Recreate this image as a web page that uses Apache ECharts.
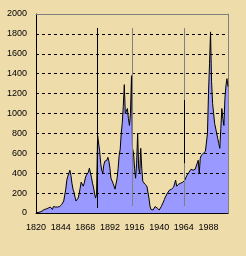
<!DOCTYPE html>
<html>
<head>
<meta charset="utf-8">
<script src="https://cdn.jsdelivr.net/npm/echarts@6/dist/echarts.min.js"></script>
<style>
  html, body { margin: 0; padding: 0; background: #eedcab; }
  #chart { width: 246px; height: 256px; }
</style>
</head>
<body>
<div id="chart"></div>
<script>
  // years on the x axis, one category per year
  const firstYear = 1820;
  const lastYear = 2007;
  const years = [];
  for (let y = firstYear; y <= lastYear; y++) years.push(String(y));

  // yearly values (one row per decade)
  const values = [
    5, 5, 5, 5, 10, 15, 20, 20, 35, 25,
    40, 40, 50, 55, 60, 50, 35, 65, 75, 60,
    40, 60, 70, 65, 75, 85, 80, 120, 180, 240,
    330, 370, 400, 430, 380, 300, 240, 210, 160, 120,
    130, 150, 190, 250, 310, 320, 270, 300, 350, 380,
    390, 410, 450, 440, 360, 300, 260, 200, 150, 190,
    780, 800, 620, 500, 430, 400, 480, 520, 500, 530,
    560, 520, 450, 350, 330, 300, 280, 240, 260, 350,
    450, 580, 640, 800, 900, 1070, 1290, 1000, 980, 1050,
    950, 880, 1000, 1380, 650, 600, 450, 350, 500, 800,
    450, 400, 650, 450, 320, 300, 290, 280, 270, 250,
    150, 70, 35, 25, 30, 50, 65, 75, 50, 35,
    30, 45, 65, 85, 110, 135, 160, 175, 200, 190,
    230, 220, 240, 235, 260, 280, 330, 270, 280, 290,
    275, 300, 290, 310, 320, 330, 350, 380, 390, 410,
    420, 440, 420, 430, 420, 440, 460, 500, 530, 400,
    550, 580, 590, 600, 610, 620, 640, 800, 1200, 1500,
    1820, 1320, 1100, 1000, 900, 880, 800, 750, 700, 650,
    850, 1050, 950, 880, 1150, 1280, 1350, 1270
  ];

  // y axis ticks
  const yMin = 0;
  const yMax = 2000;
  const yStep = 200;
  const gridValues = [200, 400, 600, 800, 1000, 1200, 1400, 1600, 1800];

  // vertical marker lines: year, from, to, colour
  const markerYears = ['1880', '1914', '1964', '1964'];
  const markerFrom = [50, 70, 70, 500];
  const markerTo = [1860, 1860, 1860, 1135];
  const markerColors = ['#000000', '#808080', '#808080', '#000000'];

  const markerData = markerYears.map(function (yr, i) {
    const ls = { color: markerColors[i], width: 1, type: 'solid' };
    return [
      { coord: [yr, markerFrom[i]], lineStyle: ls },
      { coord: [yr, markerTo[i]], lineStyle: ls }
    ];
  });

  const chart = echarts.init(document.getElementById('chart'), null, { renderer: 'canvas' });

  const font = 'Liberation Sans, Arial, sans-serif';

  chart.setOption({
    animation: false,
    backgroundColor: 'transparent',
    grid: { left: 36, right: 18, top: 14, bottom: 43 },
    xAxis: [
      {
        type: 'category',
        data: years,
        boundaryGap: false,
        axisLine: { onZero: false, lineStyle: { color: '#000', width: 1 } },
        axisTick: { show: false },
        axisLabel: { interval: 23, color: '#000', fontSize: 9, fontFamily: font, margin: 10 },
        splitLine: { show: false }
      },
      {
        // gray frame line along the top
        type: 'category',
        data: years,
        boundaryGap: false,
        position: 'top',
        axisLine: { onZero: false, lineStyle: { color: '#808080', width: 1 } },
        axisTick: { show: false },
        axisLabel: { show: false },
        splitLine: { show: false }
      }
    ],
    yAxis: [
      {
        type: 'value',
        min: yMin,
        max: yMax,
        interval: yStep,
        axisLine: { show: true, onZero: false, lineStyle: { color: '#000', width: 1 } },
        axisTick: { show: false },
        axisLabel: {
          color: '#000', fontSize: 9, fontFamily: font, margin: 9,
          formatter: function (v) { return String(v); }
        },
        splitLine: { show: false }
      },
      {
        // gray frame line on the right
        type: 'value',
        min: yMin,
        max: yMax,
        interval: yStep,
        position: 'right',
        axisLine: { show: true, onZero: false, lineStyle: { color: '#808080', width: 1 } },
        axisTick: { show: false },
        axisLabel: { show: false },
        splitLine: { show: false }
      }
    ],
    series: [
      {
        // dashed horizontal grid, kept under the filled area
        type: 'line',
        data: [],
        z: 1,
        markLine: {
          silent: true,
          symbol: 'none',
          label: { show: false },
          lineStyle: { color: '#000', width: 1, type: [3, 3] },
          data: gridValues.map(function (v) { return { yAxis: v }; })
        }
      },
      {
        type: 'line',
        data: values,
        z: 3,
        symbol: 'none',
        lineStyle: { color: '#000', width: 1 },
        areaStyle: { color: '#9999ff', opacity: 1 },
        markLine: {
          silent: true,
          symbol: 'none',
          label: { show: false },
          data: markerData
        }
      }
    ]
  });
</script>
</body>
</html>
